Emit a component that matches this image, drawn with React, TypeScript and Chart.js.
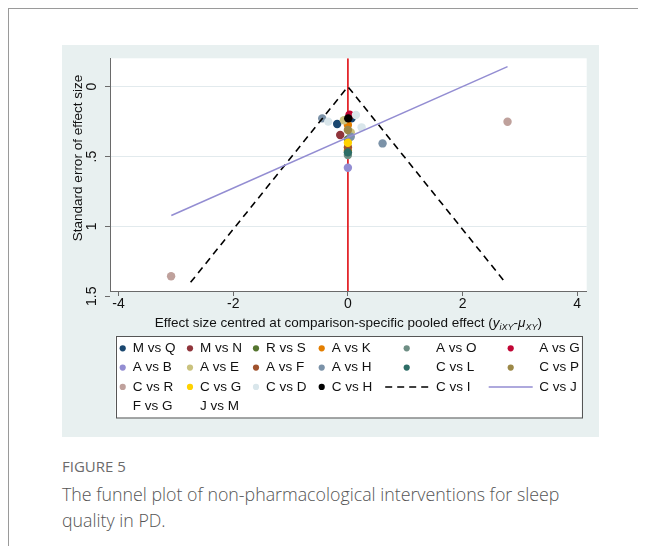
import React, { useEffect, useRef } from "react";
import { Chart, registerables } from "chart.js";

Chart.register(...registerables);

// ---------- data ----------
const seriesLabels = [
  "M vs Q", "M vs N", "R vs S", "A vs K", "A vs O", "A vs G",
  "A vs B", "A vs E", "A vs F", "A vs H", "C vs L", "C vs P",
  "C vs R", "C vs G", "C vs D", "C vs H",
];
const seriesColors = [
  "#1a476f", "#90353b", "#55752f", "#e37e00", "#6e8e84", "#c10534",
  "#938dd2", "#cac27e", "#a0522d", "#7b92a8", "#2d6d66", "#9c8847",
  "#bfa19c", "#ffd200", "#d9e6eb", "#000000",
];
// [x, y] pairs per comparison: effect size centred, standard error
const mVsQ = [[-0.187, 0.267], [0.064, 0.227]];
const mVsN = [[-0.134, 0.346], [0.035, 0.205]];
const rVsS = [[0, 0.377]];
const aVsK = [[0, 0.274], [0, 0.458]];
const aVsO = [[0, 0.489]];
const aVsG = [[0.03, 0.2]];
const aVsB = [[0, 0.58]];
const aVsE = [[-0.07, 0.24], [0.05, 0.327]];
const aVsF = [[0, 0.434]];
const aVsH = [[-0.448, 0.227], [0.605, 0.406], [0.05, 0.358]];
const cVsL = [[0, 0.47]];
const cVsP = [[0, 0.31]];
const cVsR = [[2.785, 0.251], [-3.084, 1.356]];
const cVsG = [[0, 0.401]];
const cVsD = [[-0.343, 0.25], [0.14, 0.203], [0.239, 0.291]];
const cVsH = [[0.006, 0.227]];
const seriesPoints = [
  mVsQ, mVsN, rVsS, aVsK, aVsO, aVsG, aVsB, aVsE, aVsF, aVsH, cVsL, cVsP,
  cVsR, cVsG, cVsD, cVsH,
];

const funnelX = [-2.744, 0, 2.744];
const funnelY = [1.4, 0, 1.4];
const regressionX = [-3.08, 2.785];
const regressionY = [0.922, -0.143];

const extraLegendLabels = ["C vs I", "C vs J", "F vs G", "J vs M"];

const xTicks = [-4, -2, 0, 2, 4];
const yTicks = [0, 0.5, 1, 1.5];
const yTickLabels = ["0", ".5", "1", "1.5"];
const xMin = -4.15;
const xMax = 4.166;
const yMin = -0.203;
const yMax = 1.462;

const yTitle = "Standard error of effect size";
const xTitleMain = "Effect size centred at comparison-specific pooled effect (";

// ---------- styles ----------
const FONT = '"Liberation Sans", Arial, Helvetica, sans-serif';
const TEXT = "#111111";
const AXIS = "#6a6a6a";

const decorPlugin = {
  id: "decor",
  beforeDraw(chart: any) {
    const { ctx, chartArea } = chart;
    ctx.save();
    ctx.fillStyle = "#ffffff";
    ctx.fillRect(chartArea.left, chartArea.top, chartArea.right - chartArea.left, chartArea.bottom - chartArea.top);
    ctx.restore();
  },
  afterDraw(chart: any) {
    const { ctx, chartArea } = chart;
    const yScale = chart.scales.y;
    ctx.save();
    ctx.fillStyle = TEXT;

    // y tick labels (rotated)
    ctx.font = `14px ${FONT}`;
    ctx.textAlign = "center";
    ctx.textBaseline = "alphabetic";
    yTicks.forEach((v, i) => {
      const py = yScale.getPixelForValue(v);
      ctx.save();
      ctx.translate(chartArea.left - 14, py);
      ctx.rotate(-Math.PI / 2);
      ctx.fillText(yTickLabels[i], 0, 0);
      ctx.restore();
    });

    // y title
    ctx.font = `13.5px ${FONT}`;
    ctx.save();
    ctx.translate(chartArea.left - 28, chartArea.top + 99.7);
    ctx.rotate(-Math.PI / 2);
    ctx.textAlign = "center";
    ctx.fillText(yTitle, 0, 0);
    ctx.restore();

    // x title with subscripts
    const pieces = [
      { t: xTitleMain, f: `13.5px ${FONT}`, dy: 0 },
      { t: "y", f: `italic 13.5px ${FONT}`, dy: 0 },
      { t: "iXY", f: `italic 9px ${FONT}`, dy: 3 },
      { t: "-", f: `13.5px ${FONT}`, dy: 0 },
      { t: "\u03bc", f: `italic 13.5px ${FONT}`, dy: 0 },
      { t: "XY", f: `italic 9px ${FONT}`, dy: 3 },
      { t: ")", f: `13.5px ${FONT}`, dy: 0 },
    ];
    let total = 0;
    const widths = pieces.map((p) => {
      ctx.font = p.f;
      const w = ctx.measureText(p.t).width;
      total += w;
      return w;
    });
    let cx = (chartArea.left + chartArea.right) / 2 - total / 2;
    const baseY = chartArea.bottom + 36;
    ctx.textAlign = "left";
    ctx.textBaseline = "alphabetic";
    pieces.forEach((p, i) => {
      ctx.font = p.f;
      ctx.fillText(p.t, cx, baseY + p.dy);
      cx += widths[i];
    });

    // legend
    const boxL = chartArea.left + 5.5;
    const boxT = chartArea.bottom + 45;
    const boxW = 466;
    const boxH = 81.5;
    ctx.fillStyle = "#ffffff";
    ctx.fillRect(boxL, boxT, boxW, boxH);
    ctx.strokeStyle = "#555555";
    ctx.lineWidth = 1;
    ctx.strokeRect(Math.round(boxL) + 0.5, Math.round(boxT) + 0.5, boxW, boxH);

    const keyX = [60.7, 128, 194, 259.7, 344.7, 448.7];
    const textX = [70.7, 138, 204, 269.7, 374, 477.3];
    const row0 = boxT + 12.3;
    const rowDy = 19.3;
    const all = [...seriesLabels, ...extraLegendLabels];
    ctx.font = `13.5px ${FONT}`;
    ctx.textBaseline = "middle";
    all.forEach((label, i) => {
      const r = Math.floor(i / 6);
      const c = i % 6;
      const y = row0 + r * rowDy;
      if (i < seriesLabels.length) {
        ctx.beginPath();
        ctx.fillStyle = seriesColors[i];
        ctx.arc(keyX[c], y, 3.1, 0, Math.PI * 2);
        ctx.fill();
      } else if (label === "C vs I") {
        ctx.save();
        ctx.strokeStyle = "#000";
        ctx.lineWidth = 1.5;
        ctx.setLineDash([7, 5]);
        ctx.beginPath();
        ctx.moveTo(keyX[c] - 21.5, y);
        ctx.lineTo(keyX[c] + 21.5, y);
        ctx.stroke();
        ctx.restore();
      } else if (label === "C vs J") {
        ctx.save();
        ctx.strokeStyle = "#938dd2";
        ctx.lineWidth = 1.5;
        ctx.beginPath();
        ctx.moveTo(keyX[c] - 22, y);
        ctx.lineTo(keyX[c] + 22, y);
        ctx.stroke();
        ctx.restore();
      }
      ctx.fillStyle = TEXT;
      ctx.fillText(label, textX[c], y);
    });
    ctx.restore();
  },
};

export default function App() {
  const ref = useRef<HTMLCanvasElement | null>(null);

  useEffect(() => {
    document.body.style.overflow = "hidden";
    const canvas = ref.current;
    if (!canvas) return;

    const pointSets = seriesPoints.map((pts, i) => ({
      type: "scatter" as const,
      label: seriesLabels[i],
      data: pts.map(([x, y]) => ({ x, y })),
      backgroundColor: seriesColors[i],
      borderColor: seriesColors[i],
      borderWidth: 0,
      pointRadius: 4.2,
      order: 200 - i,
    }));

    const chart = new Chart(canvas, {
      type: "scatter",
      data: {
        datasets: [
          {
            type: "line",
            label: "ref",
            data: [{ x: 0, y: yMin }, { x: 0, y: yMax }],
            borderColor: "#e3262b",
            borderWidth: 1.8,
            pointRadius: 0,
            showLine: true,
            order: 500,
          } as any,
          ...pointSets,
          {
            type: "line",
            label: "C vs I",
            data: funnelX.map((x, i) => ({ x, y: funnelY[i] })),
            borderColor: "#000000",
            borderWidth: 1.6,
            borderDash: [7, 5],
            pointRadius: 0,
            showLine: true,
            order: 20,
          } as any,
          {
            type: "line",
            label: "C vs J",
            data: regressionX.map((x, i) => ({ x, y: regressionY[i] })),
            borderColor: "#938dd2",
            borderWidth: 1.5,
            pointRadius: 0,
            showLine: true,
            order: 10,
          } as any,
        ],
      },
      options: {
        responsive: false,
        devicePixelRatio: 1,
        animation: false,
        layout: { padding: { top: 13.3, right: 12.3, bottom: 116, left: 0 } },
        plugins: { legend: { display: false }, tooltip: { enabled: false } },
        scales: {
          x: {
            type: "linear",
            min: xMin,
            max: xMax,
            afterBuildTicks: (s: any) => {
              s.ticks = xTicks.map((v) => ({ value: v }));
            },
            afterFit: (s: any) => {
              s.height = 30;
            },
            grid: {
              drawOnChartArea: false,
              drawTicks: true,
              tickLength: 5,
              tickColor: AXIS,
              tickWidth: 1,
            },
            border: { color: AXIS, width: 1 },
            ticks: {
              autoSkip: false,
              maxRotation: 0,
              padding: 0,
              color: TEXT,
              font: { family: FONT, size: 14 },
              callback: (v: any) => String(v),
            },
          },
          y: {
            type: "linear",
            reverse: true,
            min: yMin,
            max: yMax,
            afterBuildTicks: (s: any) => {
              s.ticks = yTicks.map((v) => ({ value: v }));
            },
            afterFit: (s: any) => {
              s.width = 48;
            },
            grid: {
              color: (c: any) => (c.tick && c.tick.value > yMax ? "rgba(0,0,0,0)" : "#e2eaed"),
              lineWidth: 1,
              drawTicks: true,
              tickLength: 5,
              tickColor: AXIS,
              tickWidth: 1,
            },
            border: { color: AXIS, width: 1 },
            ticks: { display: false },
          },
        },
      },
      plugins: [decorPlugin],
    } as any);

    return () => chart.destroy();
  }, []);

  return (
    <div
      style={{
        position: "relative",
        width: 638,
        height: 538,
        boxSizing: "border-box",
        borderTop: "1px solid #9a9a9a",
        borderLeft: "1px solid #9a9a9a",
      }}
    >
      <div
        style={{
          position: "absolute",
          left: 53,
          top: 36,
          width: 537,
          height: 392,
          background: "#e8f0f0",
        }}
      >
        <canvas ref={ref} width={537} height={392} style={{ display: "block", width: 537, height: 392 }} />
      </div>
      <div
        style={{
          position: "absolute",
          left: 53,
          top: 448,
          lineHeight: "18px",
          fontSize: 15,
          fontFamily: '"Open Sans", sans-serif',
          color: "#6b6b6b",
          whiteSpace: "nowrap",
        }}
      >
        FIGURE 5
      </div>
      <div
        style={{
          position: "absolute",
          left: 53,
          top: 472,
          width: 570,
          lineHeight: "26px",
          fontSize: 17.8,
          fontWeight: 300,
          fontFamily: '"Open Sans", sans-serif',
          color: "#555555",
          whiteSpace: "nowrap",
        }}
      >
        The funnel plot of non-pharmacological interventions for sleep
        <br />
        quality in PD.
      </div>
    </div>
  );
}
